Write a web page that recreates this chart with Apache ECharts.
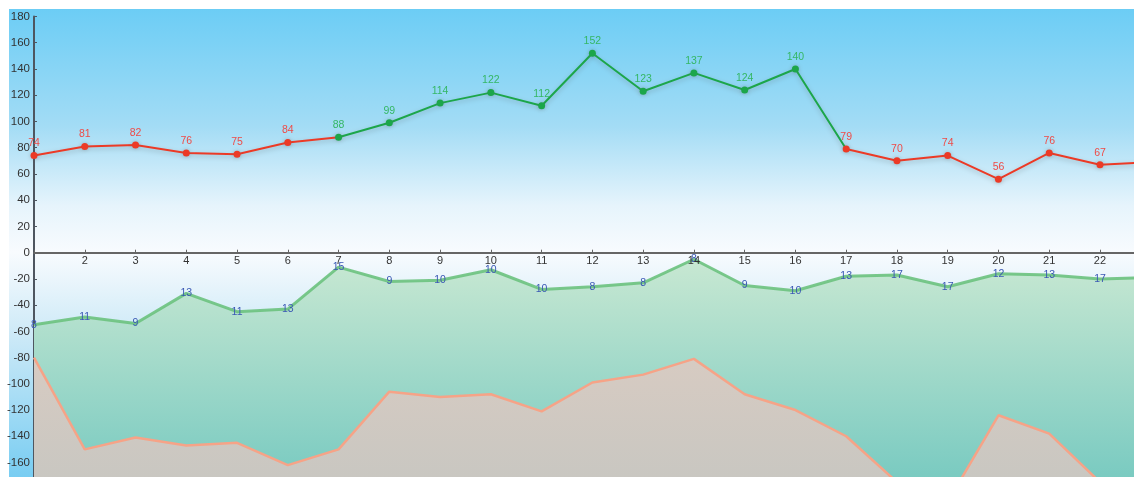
<!DOCTYPE html>
<html>
<head>
<meta charset="utf-8">
<script src="https://cdn.jsdelivr.net/npm/echarts@6/dist/echarts.min.js"></script>
<style>
html,body{margin:0;padding:0;background:#fff;}
#chart{width:1134px;height:477px;}
</style>
</head>
<body>
<div id="chart"></div>
<script>
const days = [1,2,3,4,5,6,7,8,9,10,11,12,13,14,15,16,17,18,19,20,21,22,23];
const topValues = [74,81,82,76,75,84,88,99,114,122,112,152,123,137,124,140,79,70,74,56,76,67,69];
const greenValues = [-55,-49,-54,-31,-45,-43,-11,-22,-21,-13,-28,-26,-23,-5,-25,-29,-18,-17,-26,-16,-17,-20,-19];
const greenLabels = [8,11,9,13,11,13,15,9,10,10,10,8,8,8,9,10,13,17,17,12,13,17,''];
const salmonValues = [-80,-150,-141,-147,-145,-162,-150,-106,-110,-108,-121,-99,-93,-81,-108,-120,-140,-175,-190,-124,-138,-175,-180];
const upperTicks = {min: 0, max: 180, interval: 20};
const lowerTicks = {min: -180, max: 0, interval: 20};
const xRange = {min: 1, max: 22.67, interval: 1, lastLabel: 22};

const RED = '#ec3a26', GREEN = '#1ca64a';
const RED_LABEL = '#ef4b47', GREEN_LABEL = '#35b765';
const pieces = [
  {lt: 7, color: RED},
  {gte: 7, lt: 17, color: GREEN},
  {gte: 17, color: RED}
];
const isGreen = d => d >= 7 && d < 17;

const chart = echarts.init(document.getElementById('chart'));
const pair = arr => days.map((d, i) => [d, arr[i]]);

const yAxisBase = {
  type: 'value',
  splitLine: {show: false},
  axisLine: {show: true, lineStyle: {color: '#4e5660', width: 2}},
  axisTick: {show: true, inside: true, length: 3, lineStyle: {color: '#4e5660'}},
  axisLabel: {color: '#333', fontSize: 11.5, margin: 4}
};

chart.setOption({
  animation: false,
  textStyle: {fontFamily: 'Liberation Sans, Arial, sans-serif'},
  graphic: [{
    type: 'rect', left: 9, top: 9, z: -100,
    shape: {width: 1125, height: 468},
    style: {fill: new echarts.graphic.LinearGradient(0, 0, 0, 1, [
      {offset: 0, color: '#6ccdf5'},
      {offset: 0.25, color: '#a3dcf5'},
      {offset: 0.42, color: '#e6f4fc'},
      {offset: 0.52, color: '#f8fbfe'},
      {offset: 0.7, color: '#cce9f7'},
      {offset: 1, color: '#78cdf2'}
    ])}
  }],
  grid: [
    {left: 34, right: 0, top: 16.5, bottom: 224.3, containLabel: false, outerBoundsMode: 'none'},
    {left: 34, right: 0, top: 252.7, bottom: -11.7, containLabel: false, outerBoundsMode: 'none'}
  ],
  xAxis: [
    {
      type: 'value', gridIndex: 0, min: xRange.min, max: xRange.max, interval: xRange.interval,
      splitLine: {show: false},
      axisLine: {lineStyle: {color: '#666', width: 2}},
      axisTick: {inside: true, length: 3, lineStyle: {color: '#666'}},
      axisLabel: {
        color: '#333', fontSize: 11, margin: 3,
        formatter: v => (Number.isInteger(v) && v > xRange.min && v <= xRange.lastLabel) ? String(v) : ''
      },
      z: 6
    },
    {
      type: 'value', gridIndex: 1, min: xRange.min, max: xRange.max, interval: xRange.interval,
      show: false
    }
  ],
  yAxis: [
    Object.assign({}, yAxisBase, {gridIndex: 0, min: upperTicks.min, max: upperTicks.max, interval: upperTicks.interval}),
    Object.assign({}, yAxisBase, {gridIndex: 1, min: lowerTicks.min, max: lowerTicks.max, interval: lowerTicks.interval,
      axisLabel: Object.assign({}, yAxisBase.axisLabel, {formatter: v => v === 0 ? '' : String(v)}),
      axisTick: Object.assign({}, yAxisBase.axisTick)})
  ],
  visualMap: [{
    show: false, type: 'piecewise', dimension: 0, seriesIndex: 2,
    pieces: pieces
  }],
  series: [
    {
      type: 'line', xAxisIndex: 1, yAxisIndex: 1, data: pair(greenValues),
      symbol: 'circle', symbolSize: 1,
      itemStyle: {color: 'rgba(0,0,0,0)'},
      lineStyle: {color: '#6cc27e', width: 3, opacity: 0.9},
      areaStyle: {origin: 'start', opacity: 1, color: new echarts.graphic.LinearGradient(0, 0, 0, 1, [
        {offset: 0, color: '#c8e8d2'},
        {offset: 1, color: '#76c9c0'}
      ])},
      label: {
        show: true, position: 'inside', color: '#3a58b4', fontSize: 10.5,
        formatter: p => String(greenLabels[p.dataIndex])
      },
      z: 2
    },
    {
      type: 'line', xAxisIndex: 1, yAxisIndex: 1, data: pair(salmonValues),
      symbol: 'none',
      lineStyle: {color: '#f6a387', width: 2.5},
      areaStyle: {origin: 'start', opacity: 1, color: new echarts.graphic.LinearGradient(0, 0, 0, 1, [
        {offset: 0, color: '#d7cbc2'},
        {offset: 1, color: '#c6c6c1'}
      ])},
      z: 3
    },
    {
      type: 'line', xAxisIndex: 0, yAxisIndex: 0,
      data: days.map((d, i) => ({value: [d, topValues[i]], label: {color: isGreen(d) ? GREEN_LABEL : RED_LABEL}})),
      symbol: 'circle', symbolSize: 7,
      lineStyle: {width: 2, shadowColor: 'rgba(90,90,90,0.35)', shadowBlur: 5, shadowOffsetY: 2},
      itemStyle: {shadowColor: 'rgba(90,90,90,0.35)', shadowBlur: 4},
      label: {show: true, position: 'top', distance: 3, fontSize: 10.5},
      z: 5
    }
  ]
});
</script>
</body>
</html>
